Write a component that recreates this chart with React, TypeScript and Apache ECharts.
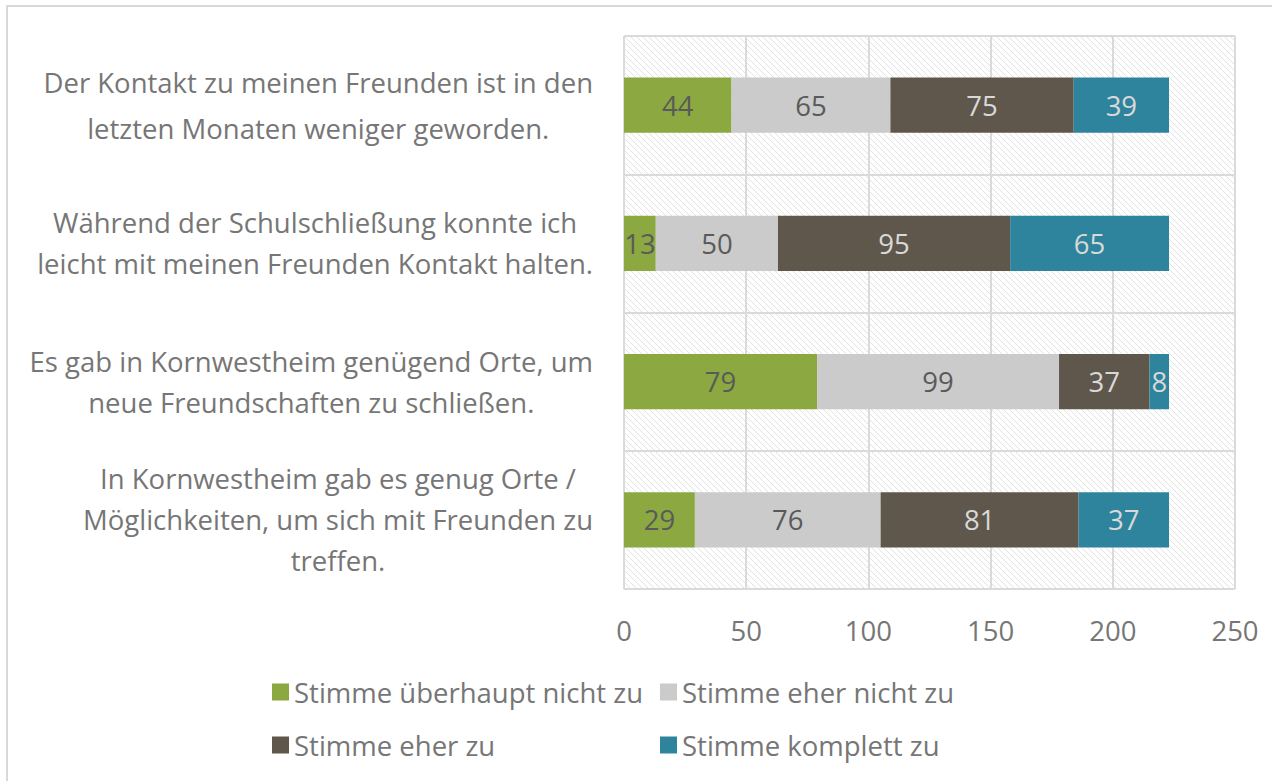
import React, { useEffect, useRef } from "react";
import * as echarts from "echarts";

const categories = [
  "Der Kontakt zu meinen Freunden ist in den\nletzten Monaten weniger geworden.",
  "Während der Schulschließung konnte ich\nleicht mit meinen Freunden Kontakt halten.",
  "Es gab in Kornwestheim genügend Orte, um\nneue Freundschaften zu schließen.",
  "In Kornwestheim gab es genug Orte /\nMöglichkeiten, um sich mit Freunden zu\ntreffen.",
];
const seriesNames = [
  "Stimme überhaupt nicht zu",
  "Stimme eher nicht zu",
  "Stimme eher zu",
  "Stimme komplett zu",
];
const stimmeUeberhauptNicht = [44, 13, 79, 29];
const stimmeEherNicht = [65, 50, 99, 76];
const stimmeEher = [75, 95, 37, 81];
const stimmeKomplett = [39, 65, 8, 37];
const xTicks = [0, 50, 100, 150, 200, 250];

const colors = ["#8BA940", "#CBCBCB", "#5F574B", "#2E849C"];
const labelColors = ["#5a5a5a", "#5a5a5a", "#d9d9d9", "#d9d9d9"];
const FONT = "'Open Sans', 'Noto Sans', sans-serif";
const FS = 27.5;

const hatch =
  "data:image/svg+xml;utf8," +
  encodeURIComponent(
    "<svg xmlns='http://www.w3.org/2000/svg' width='6' height='6'><path d='M0,0 L6,6 M-3,3 L3,9 M3,-3 L9,3' stroke='#e2e2e2' stroke-width='1' fill='none'/></svg>"
  );

export default function App() {
  const ref = useRef<HTMLDivElement>(null);
  useEffect(() => {
    document.body.style.margin = "0";
    if (!ref.current) return;
    const chart = echarts.init(ref.current, undefined, { renderer: "svg" });
    const values = [stimmeUeberhauptNicht, stimmeEherNicht, stimmeEher, stimmeKomplett];
    const legendText = { fontSize: FS, color: "#767676", fontFamily: FONT, width: 362, lineHeight: 30 };
    const option: any = {
      animation: false,
      backgroundColor: "#ffffff",
      textStyle: { fontFamily: FONT },
      graphic: [
        {
          type: "rect",
          shape: { x: 7, y: 6, width: 1300, height: 800 },
          style: { fill: "none", stroke: "#d9d9d9", lineWidth: 2 },
          silent: true,
          z: -10,
        },
      ],
      grid: {
        left: 624,
        right: 37,
        top: 36,
        bottom: 192,
        show: true,
        backgroundColor: { image: hatch, repeat: "repeat" },
        borderColor: "#d9d9d9",
        borderWidth: 1,
      },
      legend: [
        {
          data: [seriesNames[0], seriesNames[1]],
          left: 272,
          top: 677,
          padding: 0,
          itemWidth: 17,
          itemHeight: 17,
          itemGap: 4,
          icon: "rect",
          textStyle: legendText,
        },
        {
          data: [seriesNames[2], seriesNames[3]],
          left: 272,
          top: 730,
          padding: 0,
          itemWidth: 17,
          itemHeight: 17,
          itemGap: 4,
          icon: "rect",
          textStyle: legendText,
        },
      ],
      xAxis: {
        type: "value",
        min: xTicks[0],
        max: xTicks[xTicks.length - 1],
        interval: 50,
        axisLine: { show: false },
        axisTick: { show: false },
        splitLine: { show: true, lineStyle: { color: "#dadada", width: 2 } },
        axisLabel: { fontSize: FS, color: "#767676", margin: 27, fontFamily: FONT },
      },
      yAxis: {
        type: "category",
        inverse: true,
        data: categories,
        axisLine: { show: false },
        axisTick: { show: false },
        splitLine: { show: true, lineStyle: { color: "#dadada", width: 2 } },
        axisLabel: {
          margin: 31,
          color: "#767676",
          formatter: (v: string, i: number) =>
            v
              .split("\n")
              .map((l) => `{${i === 0 ? "w" : "c"}|${l}}`)
              .join("\n"),
          rich: {
            c: { align: "center", fontSize: FS, lineHeight: 41, color: "#767676", fontFamily: FONT },
            w: { align: "center", fontSize: FS, lineHeight: 46, color: "#767676", fontFamily: FONT },
          },
        },
      },
      series: seriesNames.map((name, si) => ({
        name,
        type: "bar",
        stack: "total",
        barWidth: "40%",
        data: values[si],
        itemStyle: { color: colors[si] },
        label: {
          show: true,
          position: "inside",
          fontSize: FS,
          color: labelColors[si],
          fontFamily: FONT,
        },
      })),
    };
    chart.setOption(option);
    return () => chart.dispose();
  }, []);
  return <div ref={ref} style={{ width: 1272, height: 781 }} />;
}
